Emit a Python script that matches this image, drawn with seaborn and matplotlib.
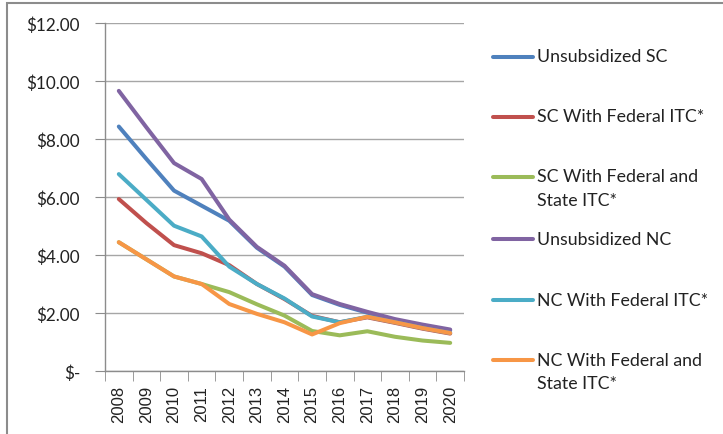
import numpy as np
import pandas as pd
import seaborn as sns
import matplotlib.pyplot as plt
from matplotlib.lines import Line2D
from matplotlib.patches import Rectangle
from matplotlib.ticker import FuncFormatter

# Chart data (levelized cost, $ per unit)
years = [str(y) for y in range(2008, 2021)]
unsub_sc = [8.43, 7.31, 6.22, 5.70, 5.18, 4.25, 3.60, 2.62, 2.28, 2.01, 1.76, 1.57, 1.40]
sc_fed = [5.93, 5.10, 4.34, 4.06, 3.65, 3.00, 2.48, 1.90, 1.68, 1.85, 1.66, 1.46, 1.29]
sc_fed_state = [4.44, 3.85, 3.26, 3.00, 2.72, 2.30, 1.91, 1.38, 1.23, 1.37, 1.18, 1.05, 0.97]
unsub_nc = [9.66, 8.40, 7.17, 6.62, 5.22, 4.28, 3.63, 2.65, 2.31, 2.04, 1.79, 1.60, 1.43]
nc_fed = [6.79, 5.90, 5.01, 4.64, 3.60, 3.00, 2.50, 1.88, 1.68, 1.87, 1.68, 1.48, 1.31]
nc_fed_state = [4.44, 3.85, 3.26, 3.00, 2.31, 1.97, 1.68, 1.26, 1.65, 1.87, 1.68, 1.48, 1.31]

series_names = [
    "Unsubsidized SC",
    "SC With Federal ITC*",
    "SC With Federal and\nState ITC*",
    "Unsubsidized NC",
    "NC With Federal ITC*",
    "NC With Federal and\nState ITC*",
]
series_values = [unsub_sc, sc_fed, sc_fed_state, unsub_nc, nc_fed, nc_fed_state]
colors = ["#4F81BD", "#C0504D", "#9BBB59", "#8064A2", "#4BACC6", "#F79646"]

# Long-form table for seaborn
df = pd.concat(
    [pd.DataFrame({"year": years, "cost": vals, "series": name})
     for name, vals in zip(series_names, series_values)],
    ignore_index=True,
)

sns.set_style("white")
plt.rcParams["font.family"] = ["Lato", "DejaVu Sans"]

W, H = 723, 435
fig = plt.figure(figsize=(W / 100, H / 100), dpi=100)
ax = fig.add_axes([105 / W, 1 - 372 / H, (464 - 105) / W, (372 - 24) / H])

sns.lineplot(
    data=df, x="year", y="cost", hue="series", hue_order=series_names,
    palette=colors, linewidth=2.9, legend=False, ax=ax, sort=False,
    solid_capstyle="round", solid_joinstyle="round",
)

grey = "#8C8C8C"
ax.set_ylim(0, 12)
ax.set_yticks(np.arange(0, 13, 2))
ax.yaxis.set_major_formatter(FuncFormatter(lambda v, p: "$-" if v == 0 else f"${v:.2f}"))
ax.yaxis.grid(True, color="#A6A6A6", linewidth=1)
ax.set_axisbelow(True)
ax.tick_params(axis="y", length=7, color=grey, left=True, labelsize=12.3, labelcolor="#222222", pad=11)

ax.set_xlim(-0.5, 12.5)
ax.set_xticks(range(len(years)))
ax.set_xticklabels(years, rotation=90, fontfamily="Liberation Sans", fontsize=12)
ax.set_xticks(np.arange(-0.5, len(years), 1), minor=True)
ax.tick_params(axis="x", which="major", length=0, pad=10, labelcolor="#222222")
ax.tick_params(axis="x", which="minor", length=7, color=grey, bottom=True)

ax.set_xlabel("")
ax.set_ylabel("")
for side in ["top", "right"]:
    ax.spines[side].set_visible(False)
for side in ["left", "bottom"]:
    ax.spines[side].set_color(grey)
    ax.spines[side].set_linewidth(1)

# Legend drawn by hand to match Excel's entry layout
legend_y = [57.5, 117.5, 177.5, 240, 300.5, 361]
for name, col, y in zip(series_names, colors, legend_y):
    fig.add_artist(Line2D([493 / W, 533 / W], [1 - y / H, 1 - y / H], color=col,
                          linewidth=2.9, solid_capstyle="round"))
    for i, line in enumerate(name.split("\n")):
        fig.text(537 / W, 1 - (y + i * 23) / H, line, fontsize=12.8,
                 color="#222222", va="center", ha="left")

# Outer chart frame
fig.add_artist(Rectangle((7 / W, -0.01), 1.0, 1 - 4 / H + 0.01, transform=fig.transFigure,
                         fill=False, edgecolor="#8C8C8C", linewidth=1.5))

fig.savefig("out.png", dpi=100)
